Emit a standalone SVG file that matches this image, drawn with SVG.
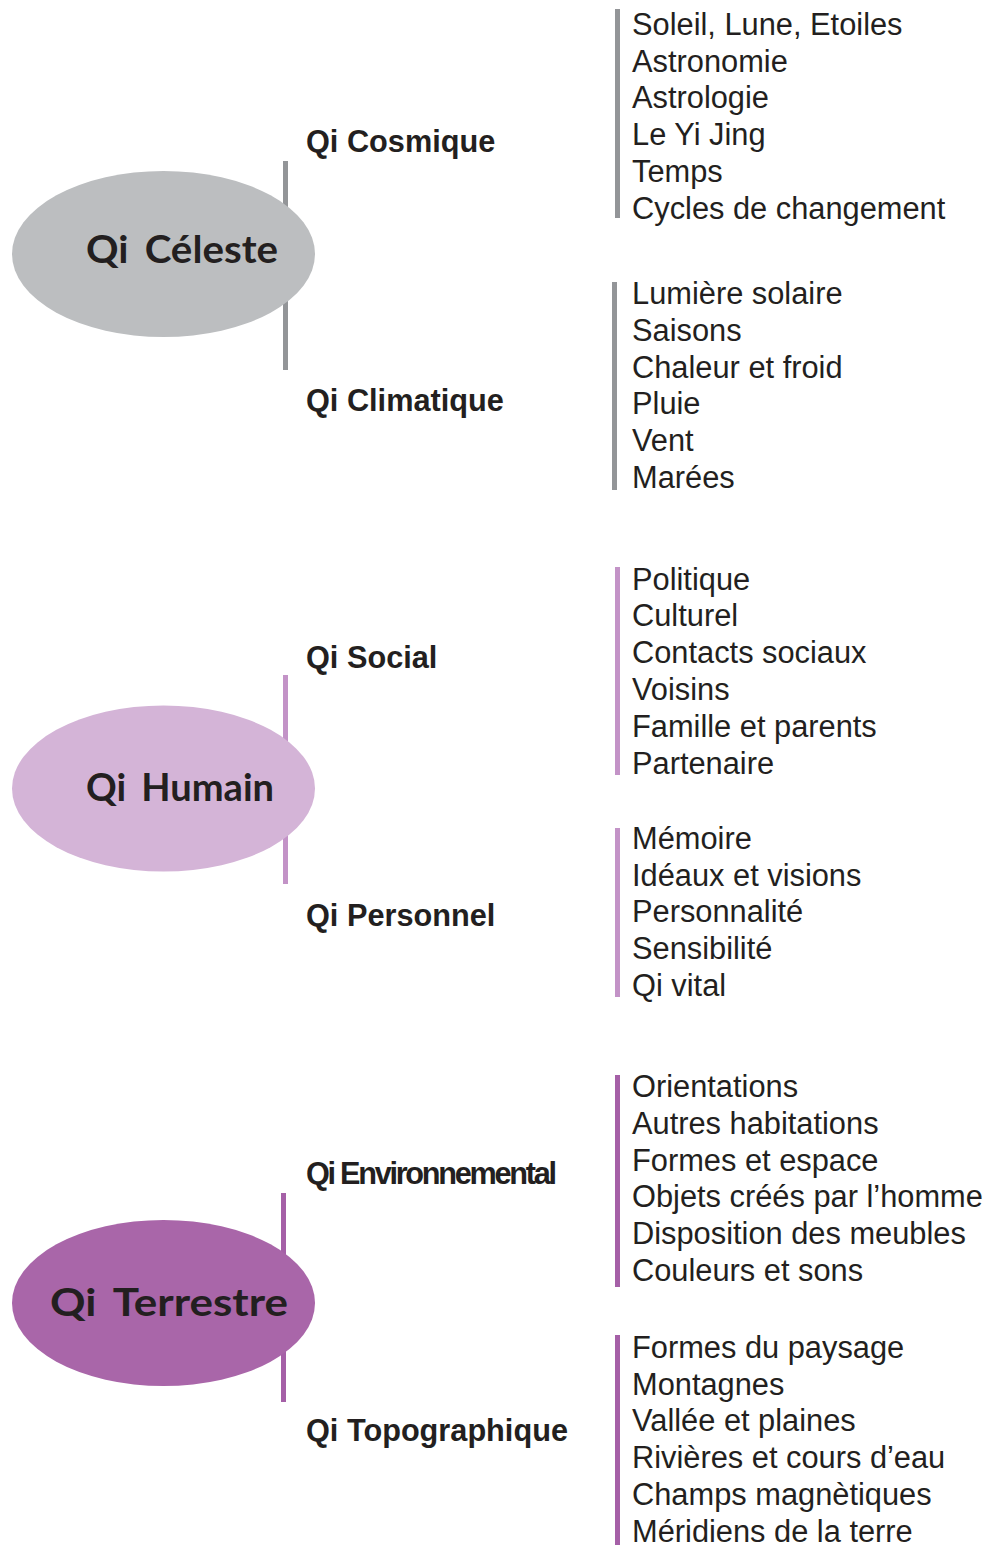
<svg xmlns="http://www.w3.org/2000/svg" width="986" height="1547" viewBox="0 0 986 1547">
<style>
.item{font-family:"Liberation Sans",Arial,sans-serif;font-size:30.8px;fill:#231f20}
.sub{font-family:"Liberation Sans",Arial,sans-serif;font-size:30.7px;font-weight:bold;fill:#231f20}
.main{font-family:"Comic Sans MS","Lato","DejaVu Sans",sans-serif;font-size:38px;font-weight:bold;fill:#231f20;word-spacing:6px}
.g{fill:#939598}
.p1{fill:#c393c7}
.p2{fill:#a560a7}
</style>
<rect width="986" height="1547" fill="#ffffff"/>
<g id="connectors">
<rect class="g" x="283" y="161" width="5" height="209"/>
<rect class="p1" x="283" y="675" width="5" height="209"/>
<rect class="p2" x="281" y="1193" width="5" height="209"/>
<rect class="g" x="615" y="9" width="5" height="209"/>
<rect class="g" x="612" y="282" width="5" height="208"/>
<rect class="p1" x="615" y="567" width="5" height="208"/>
<rect class="p1" x="615" y="828" width="5" height="169"/>
<rect class="p2" x="615" y="1075" width="5" height="212"/>
<rect class="p2" x="615" y="1335" width="5" height="210"/>
</g>
<g id="qi-celeste">
<ellipse cx="163.5" cy="254" rx="151.5" ry="83" fill="#bcbec0"/>
<text class="main" x="86" y="263" textLength="192" lengthAdjust="spacingAndGlyphs">Qi Céleste</text>
</g>
<g id="qi-humain">
<ellipse cx="163.5" cy="788.5" rx="151.5" ry="83" fill="#d4b4d7"/>
<text class="main" x="86" y="801" textLength="188" lengthAdjust="spacingAndGlyphs">Qi Humain</text>
</g>
<g id="qi-terrestre">
<ellipse cx="163.5" cy="1303" rx="151.5" ry="83" fill="#a966a9"/>
<text class="main" x="50" y="1316" textLength="238" lengthAdjust="spacingAndGlyphs">Qi Terrestre</text>
</g>
<g id="qi-cosmique">
<text class="sub" x="306" y="152">Qi Cosmique</text>
<text class="item"><tspan x="632" y="35">Soleil, Lune, Etoiles</tspan><tspan x="632" y="72">Astronomie</tspan><tspan x="632" y="108">Astrologie</tspan><tspan x="632" y="145">Le Yi Jing</tspan><tspan x="632" y="182">Temps</tspan><tspan x="632" y="219">Cycles de changement</tspan></text>
</g>
<g id="qi-climatique">
<text class="sub" x="306" y="411">Qi Climatique</text>
<text class="item"><tspan x="632" y="304">Lumière solaire</tspan><tspan x="632" y="341">Saisons</tspan><tspan x="632" y="378">Chaleur et froid</tspan><tspan x="632" y="414">Pluie</tspan><tspan x="632" y="451">Vent</tspan><tspan x="632" y="488">Marées</tspan></text>
</g>
<g id="qi-social">
<text class="sub" x="306" y="668">Qi Social</text>
<text class="item"><tspan x="632" y="590">Politique</tspan><tspan x="632" y="626">Culturel</tspan><tspan x="632" y="663">Contacts sociaux</tspan><tspan x="632" y="700">Voisins</tspan><tspan x="632" y="737">Famille et parents</tspan><tspan x="632" y="774">Partenaire</tspan></text>
</g>
<g id="qi-personnel">
<text class="sub" x="306" y="926">Qi Personnel</text>
<text class="item"><tspan x="632" y="849">Mémoire</tspan><tspan x="632" y="886">Idéaux et visions</tspan><tspan x="632" y="922">Personnalité</tspan><tspan x="632" y="959">Sensibilité</tspan><tspan x="632" y="996">Qi vital</tspan></text>
</g>
<g id="qi-environnemental">
<text class="sub" x="306" y="1184" textLength="251" lengthAdjust="spacing">Qi Environnemental</text>
<text class="item"><tspan x="632" y="1097">Orientations</tspan><tspan x="632" y="1134">Autres habitations</tspan><tspan x="632" y="1171">Formes et espace</tspan><tspan x="632" y="1207">Objets créés par l’homme</tspan><tspan x="632" y="1244">Disposition des meubles</tspan><tspan x="632" y="1281">Couleurs et sons</tspan></text>
</g>
<g id="qi-topographique">
<text class="sub" x="306" y="1441">Qi Topographique</text>
<text class="item"><tspan x="632" y="1358">Formes du paysage</tspan><tspan x="632" y="1395">Montagnes</tspan><tspan x="632" y="1431">Vallée et plaines</tspan><tspan x="632" y="1468">Rivières et cours d’eau</tspan><tspan x="632" y="1505">Champs magnètiques</tspan><tspan x="632" y="1542">Méridiens de la terre</tspan></text>
</g>
</svg>
